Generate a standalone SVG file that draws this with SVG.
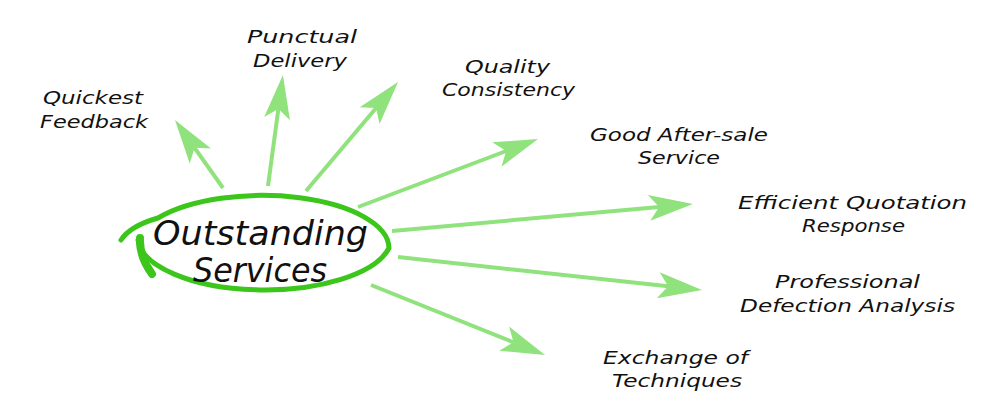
<svg xmlns="http://www.w3.org/2000/svg" width="1000" height="419" viewBox="0 0 1000 419">
  <style>
    .lbl { font-family: "DejaVu Sans", "Liberation Sans", sans-serif; font-style: italic; font-size: 18px; fill: #111; text-anchor: start; }
    .main { font-family: "DejaVu Sans", "Liberation Sans", sans-serif; font-style: italic; font-size: 34px; fill: #111; }
    .arr { stroke: #90e27c; stroke-width: 4; fill: none; marker-end: url(#head); }
  </style>
  <defs>
    <marker id="head" markerUnits="userSpaceOnUse" markerWidth="46" markerHeight="28" refX="10" refY="13" orient="auto" overflow="visible">
      <path d="M0,0 L44,13 L0,26 L10,13 Z" fill="#90e27c"/>
    </marker>
  </defs>
  <rect width="1000" height="419" fill="#ffffff"/>

  <g id="connectors">
    <line class="arr" x1="223" y1="188" x2="194.6" y2="147.8"/>
    <line class="arr" x1="268" y1="186" x2="278.4" y2="108.7"/>
    <line class="arr" x1="306" y1="191" x2="376.1" y2="108"/>
    <line class="arr" x1="358" y1="207" x2="506.2" y2="151"/>
    <line class="arr" x1="392" y1="231" x2="659.1" y2="207"/>
    <line class="arr" x1="398" y1="257" x2="668.2" y2="286.3"/>
    <line class="arr" x1="371" y1="285" x2="513.5" y2="342.3"/>
  </g>

  <g id="center">
    <path d="M 138 240 A 127 53 0 0 0 389 248 A 127 53 0 0 0 158 218 Q 130 226 121 240" fill="none" stroke="#3cc61c" stroke-width="5" stroke-linecap="round"/>
    <path d="M 140 238 Q 139 256 152 274" fill="none" stroke="#3cc61c" stroke-width="8" stroke-linecap="round"/>
    <text class="main" x="153" y="245" textLength="215" lengthAdjust="spacingAndGlyphs">Outstanding</text>
    <text class="main" x="193" y="282" textLength="134" lengthAdjust="spacingAndGlyphs">Services</text>
  </g>

  <g id="quickest-feedback">
    <text class="lbl" x="43" y="104" textLength="100" lengthAdjust="spacingAndGlyphs">Quickest</text>
    <text class="lbl" x="40" y="128" textLength="108" lengthAdjust="spacingAndGlyphs">Feedback</text>
  </g>
  <g id="punctual-delivery">
    <text class="lbl" x="247" y="43" textLength="110" lengthAdjust="spacingAndGlyphs">Punctual</text>
    <text class="lbl" x="253" y="67" textLength="94" lengthAdjust="spacingAndGlyphs">Delivery</text>
  </g>
  <g id="quality-consistency">
    <text class="lbl" x="465" y="73" textLength="85" lengthAdjust="spacingAndGlyphs">Quality</text>
    <text class="lbl" x="442" y="96" textLength="133" lengthAdjust="spacingAndGlyphs">Consistency</text>
  </g>
  <g id="good-after-sale-service">
    <text class="lbl" x="590" y="141" textLength="178" lengthAdjust="spacingAndGlyphs">Good After-sale</text>
    <text class="lbl" x="638" y="164" textLength="82" lengthAdjust="spacingAndGlyphs">Service</text>
  </g>
  <g id="efficient-quotation-response">
    <text class="lbl" x="738" y="209" textLength="229" lengthAdjust="spacingAndGlyphs">Efficient Quotation</text>
    <text class="lbl" x="802" y="232" textLength="103" lengthAdjust="spacingAndGlyphs">Response</text>
  </g>
  <g id="professional-defection-analysis">
    <text class="lbl" x="775" y="288" textLength="145" lengthAdjust="spacingAndGlyphs">Professional</text>
    <text class="lbl" x="740" y="312" textLength="215" lengthAdjust="spacingAndGlyphs">Defection Analysis</text>
  </g>
  <g id="exchange-of-techniques">
    <text class="lbl" x="603" y="364" textLength="145" lengthAdjust="spacingAndGlyphs">Exchange of</text>
    <text class="lbl" x="612" y="387" textLength="130" lengthAdjust="spacingAndGlyphs">Techniques</text>
  </g>
</svg>
